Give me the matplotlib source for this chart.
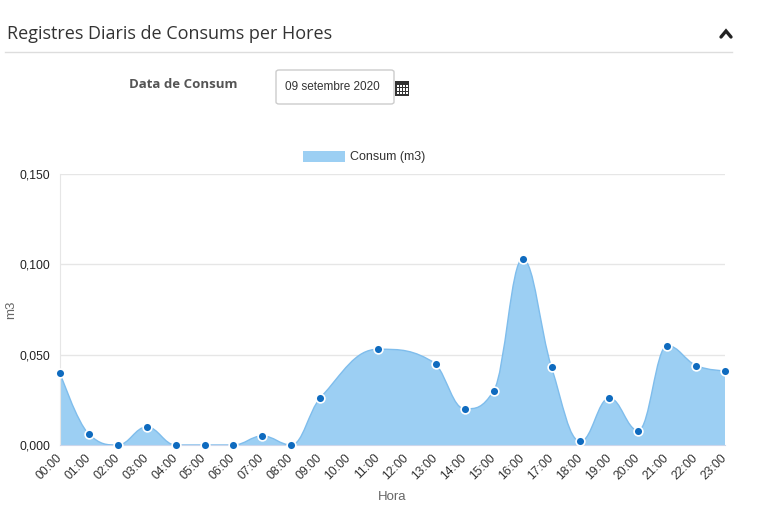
import matplotlib
matplotlib.use("Agg")
import matplotlib.pyplot as plt
import numpy as np
from matplotlib.path import Path
from matplotlib.patches import PathPatch, Rectangle, FancyBboxPatch
from matplotlib.lines import Line2D
from matplotlib.ticker import FuncFormatter

# hourly consumption (m3); 10:00 and 12:00 have no reading
hours = ["00:00", "01:00", "02:00", "03:00", "04:00", "05:00", "06:00", "07:00",
         "08:00", "09:00", "10:00", "11:00", "12:00", "13:00", "14:00", "15:00",
         "16:00", "17:00", "18:00", "19:00", "20:00", "21:00", "22:00", "23:00"]
point_hours = [0, 1, 2, 3, 4, 5, 6, 7, 8, 9, 11, 13, 14, 15, 16, 17, 18, 19, 20, 21, 22, 23]
consum = [0.040, 0.006, 0.000, 0.010, 0.000, 0.000, 0.000, 0.005, 0.000, 0.026,
          0.053, 0.045, 0.020, 0.030, 0.103, 0.043, 0.002, 0.026, 0.008, 0.055,
          0.044, 0.041]
y_ticks = [0.0, 0.05, 0.10, 0.15]

FILL = "#9ccff3"
LINE = "#7fbdec"
MARK = "#0f6bbf"
W, H = 774, 516


def spline_path(xs, ys, smoothing=1.5):
    """Highcharts-style spline: cubic beziers with clamped control points."""
    n = len(xs)
    right = [None] * n
    verts = [(xs[0], ys[0])]
    codes = [Path.MOVETO]
    d = smoothing + 1
    for i in range(1, n):
        x, y = xs[i], ys[i]
        lc = (x, y)
        if i < n - 1:
            lx, ly, nx, ny = xs[i - 1], ys[i - 1], xs[i + 1], ys[i + 1]
            lcx = (smoothing * x + lx) / d
            lcy = (smoothing * y + ly) / d
            rcx = (smoothing * x + nx) / d
            rcy = (smoothing * y + ny) / d
            corr = 0
            if rcx != lcx:
                corr = (rcy - lcy) * (rcx - x) / (rcx - lcx) + y - rcy
            lcy += corr
            rcy += corr
            if lcy > ly and lcy > y:
                lcy = max(ly, y)
                rcy = 2 * y - lcy
            elif lcy < ly and lcy < y:
                lcy = min(ly, y)
                rcy = 2 * y - lcy
            if rcy > ny and rcy > y:
                rcy = max(ny, y)
                lcy = 2 * y - rcy
            elif rcy < ny and rcy < y:
                rcy = min(ny, y)
                lcy = 2 * y - rcy
            lc = (lcx, lcy)
            right[i] = (rcx, rcy)
        prev_rc = right[i - 1] if right[i - 1] is not None else (xs[i - 1], ys[i - 1])
        verts += [prev_rc, lc, (x, y)]
        codes += [Path.CURVE4] * 3
    return verts, codes


fig = plt.figure(figsize=(W / 100, H / 100), dpi=100)
fig.patch.set_facecolor("white")


def fx(px):
    return px / W


def fy(py):
    return 1 - py / H


# page header
fig.text(fx(7), fy(34), "Registres Diaris de Consums per Hores", family="Open Sans",
         fontsize=13, color="#333333", va="center", ha="left")
fig.add_artist(Line2D([fx(5), fx(732)], [fy(52), fy(52)], color="#dddddd", lw=1))
fig.add_artist(Line2D([fx(721), fx(726), fx(731)], [fy(37), fy(31), fy(37)],
                      color="#222222", lw=2.4, solid_capstyle="round",
                      solid_joinstyle="miter"))
fig.text(fx(238), fy(85), "Data de Consum", family="Open Sans", fontweight="bold",
         fontsize=9.5, color="#555555", va="center", ha="right")
fig.add_artist(FancyBboxPatch((fx(276), fy(104)), fx(118), 34 / H,
                              boxstyle="round,pad=0,rounding_size=0.004",
                              transform=fig.transFigure, facecolor="white",
                              edgecolor="#cccccc", lw=1))
fig.text(fx(285), fy(87), "09 setembre 2020", family="Liberation Sans",
         fontsize=8.5, color="#333333", va="center", ha="left")
# calendar icon
fig.add_artist(Rectangle((fx(395), fy(96)), 14 / W, 15 / H, transform=fig.transFigure,
                         facecolor="#333333", edgecolor="none"))
for r in range(3):
    for c in range(4):
        fig.add_artist(Rectangle((fx(397 + c * 3), fy(94 - r * 3.5)), 2 / W, 2.2 / H,
                                 transform=fig.transFigure, facecolor="white",
                                 edgecolor="none"))

# chart
ax = fig.add_axes([fx(60), fy(445), (725 - 60) / W, (445 - 174) / H])
verts, codes = spline_path(point_hours, consum)
area = verts + [(point_hours[-1], 0), (point_hours[0], 0), verts[0]]
area_codes = codes + [Path.LINETO, Path.LINETO, Path.CLOSEPOLY]
ax.add_patch(PathPatch(Path(area, area_codes), facecolor=FILL, edgecolor="none",
                       zorder=2, label="Consum (m3)"))
ax.add_patch(PathPatch(Path(verts, codes), facecolor="none", edgecolor=LINE, lw=1,
                       zorder=3))
ax.plot(point_hours, consum, ls="none", marker="o", ms=6.3, mfc=MARK, mec="white",
        mew=1.2, zorder=4, clip_on=False)

ax.set_xlim(0, 23)
ax.set_ylim(0, 0.15)
ax.set_xticks(range(len(hours)))
ax.set_xticklabels(hours, rotation=45, ha="right", va="center",
                   rotation_mode="anchor", fontsize=8.7, family="Liberation Sans",
                   color="#333333")
ax.set_yticks(y_ticks)
ax.yaxis.set_major_formatter(FuncFormatter(lambda v, _: f"{v:.3f}".replace(".", ",")))
for t in ax.get_yticklabels():
    t.set_family("Liberation Sans")
ax.tick_params(axis="y", length=0, pad=7, labelsize=8.7, labelcolor="#222222")
ax.tick_params(axis="x", length=0, pad=8)
ax.grid(axis="y", color="#e6e6e6", lw=1, zorder=0)
for s in ["top", "right"]:
    ax.spines[s].set_visible(False)
ax.spines["left"].set_color("#e6e6e6")
ax.spines["bottom"].set_color("#ccd6eb")
ax.set_ylabel("m3", fontsize=9.5, color="#666666", family="Liberation Sans")
ax.yaxis.set_label_coords((11 - 60) / 665, (445 - 310) / 271)
ax.set_xlabel("Hora", fontsize=9.5, color="#666666", family="Liberation Sans")
ax.xaxis.set_label_coords((392 - 60) / 665, -(497 - 445) / 271)
ax.xaxis.label.set_va("center")
ax.yaxis.label.set_va("center")

leg = ax.legend(loc="center", bbox_to_anchor=(fx(364), fy(157)),
                bbox_transform=fig.transFigure, frameon=False,
                handlelength=3.3, handleheight=1.0, handletextpad=0.4,
                prop={"family": "Liberation Sans", "size": 9})
for t in leg.get_texts():
    t.set_color("#333333")

fig.savefig("out.png", dpi=100)
